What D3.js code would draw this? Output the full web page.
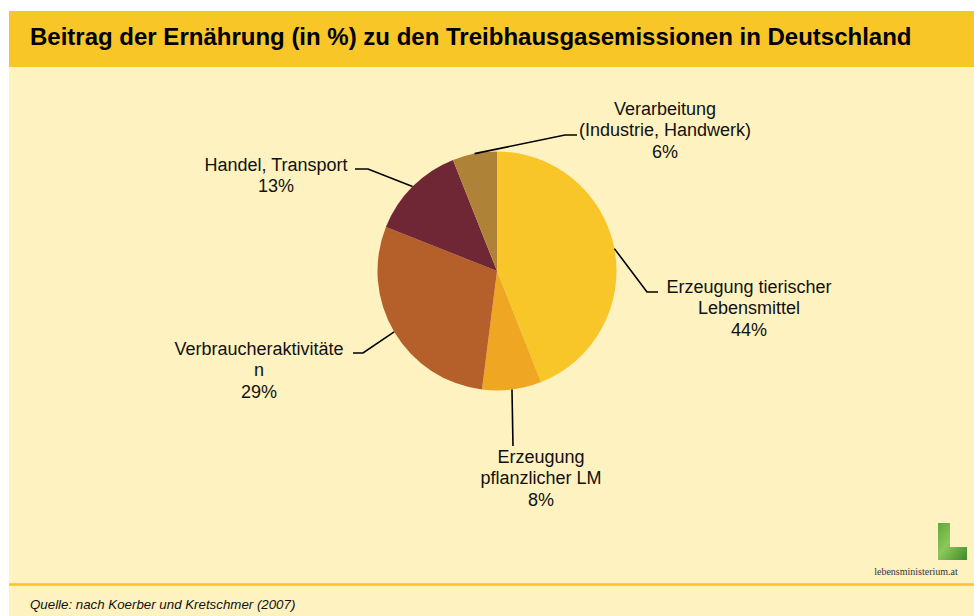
<!DOCTYPE html>
<html>
<head>
<meta charset="utf-8">
<script src="https://cdn.jsdelivr.net/npm/d3@7"></script>
<style>
  html, body { margin: 0; padding: 0; background: #ffffff; }
  svg { display: block; }
</style>
</head>
<body>
<svg id="chart" width="974" height="616"></svg>
<script>
// ---- Data ----
const title = "Beitrag der Ernährung (in %) zu den Treibhausgasemissionen in Deutschland";
const source = "Quelle: nach Koerber und Kretschmer (2007)";
const categories = [
  ["Erzeugung tierischer", "Lebensmittel"],
  ["Erzeugung", "pflanzlicher LM"],
  ["Verbraucheraktivitäte", "n"],
  ["Handel, Transport"],
  ["Verarbeitung", "(Industrie, Handwerk)"]
];
const values = [44, 8, 29, 13, 6];
const colors = ["#F9C62A", "#EEA623", "#B5602B", "#6F2735", "#AF8337"];

// ---- Layout (label anchors relative to pie centre) ----
const W = 974, H = 616;
const cx = 497, cy = 271, R = 119.5;
const SANS = "'Liberation Sans', Arial, sans-serif";
const labelLayout = [
  { elbow: [150, 21],  end: [161, 21],  text: [252, 22] },
  { elbow: [16, 175],  end: [16, 175],  text: [44, 192] },
  { elbow: [-134, 82], end: [-144, 82], text: [-238, 84] },
  { elbow: [-129, -102], end: [-142, -102], text: [-221, -100] },
  { elbow: [68, -136], end: [80, -136], text: [168, -156] }
];

const svg = d3.select("#chart");

// Backgrounds
svg.append("rect").attr("x", 0).attr("y", 0).attr("width", W).attr("height", H).attr("fill", "#ffffff");
svg.append("rect").attr("x", 9).attr("y", 67).attr("width", W - 9).attr("height", H - 67).attr("fill", "#FEF2C0");
svg.append("rect").attr("x", 9).attr("y", 11).attr("width", W - 9).attr("height", 56).attr("fill", "#F8C626");

// Title
svg.append("text")
  .attr("x", 30).attr("y", 45)
  .style("font-family", SANS)
  .attr("font-size", 24).attr("font-weight", "bold").attr("fill", "#000")
  .text(title);

// Footer line and source
svg.append("line").attr("x1", 9).attr("x2", W).attr("y1", 584.5).attr("y2", 584.5)
  .attr("stroke", "#F8C32B").attr("stroke-width", 2.5);
svg.append("text")
  .attr("x", 30).attr("y", 609)
  .style("font-family", SANS)
  .attr("font-size", 13.3).attr("font-style", "italic").attr("fill", "#111")
  .text(source);

// Pie
const pie = d3.pie().sort(null).value(d => d)(values);
const arc = d3.arc().innerRadius(0).outerRadius(R);

const g = svg.append("g").attr("transform", `translate(${cx},${cy})`);
g.selectAll("path.slice").data(pie).enter().append("path")
  .attr("class", "slice")
  .attr("d", arc)
  .attr("fill", (d, i) => colors[i]);

// Leader lines
g.selectAll("polyline").data(pie).enter().append("polyline")
  .attr("points", (d, i) => {
    const a = (d.startAngle + d.endAngle) / 2;
    const p0 = [R * Math.sin(a), -R * Math.cos(a)];
    const L = labelLayout[i];
    return [p0, L.elbow, L.end].map(p => p.join(",")).join(" ");
  })
  .attr("fill", "none").attr("stroke", "#000").attr("stroke-width", 1.6);

// Labels
const lineH = 21.3;
pie.forEach((d, i) => {
  const L = labelLayout[i];
  const lines = categories[i].concat([values[i] + "%"]);
  const t = g.append("text")
    .attr("text-anchor", "middle")
    .style("font-family", SANS)
    .attr("font-size", 18).attr("fill", "#111");
  lines.forEach((ln, k) => {
    t.append("tspan").attr("x", L.text[0]).attr("y", L.text[1] + k * lineH).text(ln);
  });
});

// Logo
const defs = svg.append("defs");
const grad = defs.append("linearGradient").attr("id", "lg").attr("x1", "0").attr("y1", "0").attr("x2", "1").attr("y2", "1");
grad.append("stop").attr("offset", "0%").attr("stop-color", "#5FA83A");
grad.append("stop").attr("offset", "45%").attr("stop-color", "#8CC85A");
grad.append("stop").attr("offset", "100%").attr("stop-color", "#3F8A2A");
svg.append("path")
  .attr("d", "M938,523 L950,523 L950,547 L967,547 L967,560 L938,560 Z")
  .attr("fill", "url(#lg)");
svg.append("text")
  .attr("x", 916).attr("y", 575)
  .attr("text-anchor", "middle")
  .style("font-family", "'Liberation Serif', 'Times New Roman', serif")
  .attr("font-size", 10).attr("fill", "#333")
  .text("lebensministerium.at");
</script>
</body>
</html>
